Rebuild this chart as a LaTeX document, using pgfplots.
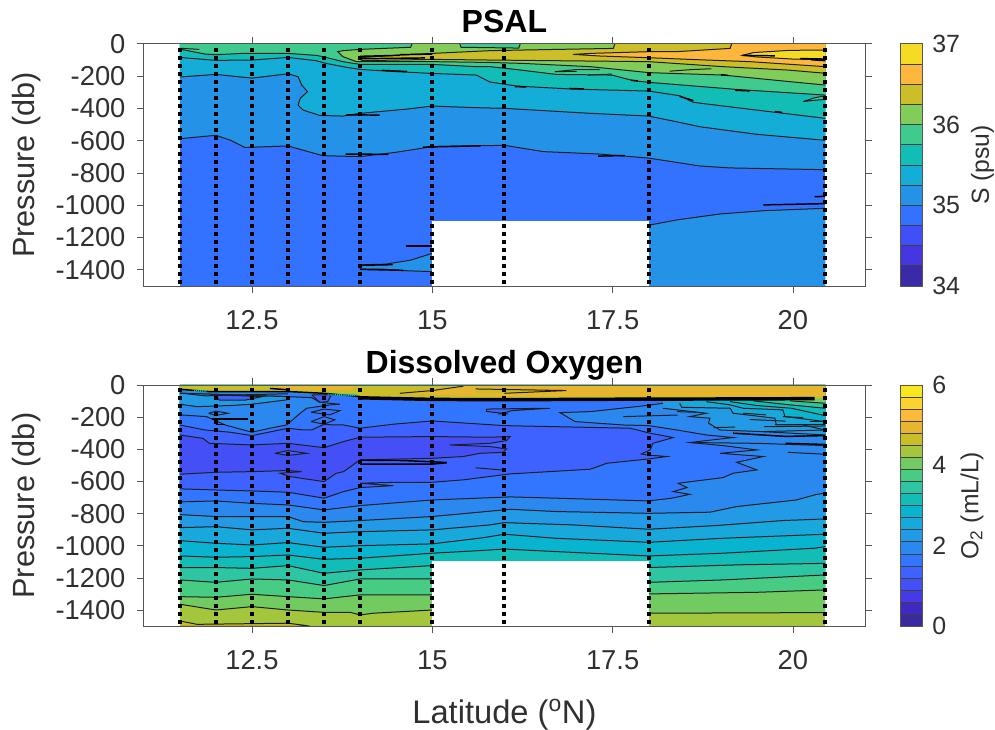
\documentclass[border=0pt]{standalone}
\usepackage{pgfplots}
\pgfplotsset{compat=1.18}
\usepackage{fontspec}
\setmainfont{Liberation Sans}
% PSAL bands
\definecolor{sA}{HTML}{F5DB24}\definecolor{sB}{HTML}{FDB73C}\definecolor{sC}{HTML}{CCBE28}
\definecolor{sD}{HTML}{82CC5A}\definecolor{sE}{HTML}{40CB8E}\definecolor{sF}{HTML}{12BDB5}
\definecolor{sG}{HTML}{14ADD8}\definecolor{sH}{HTML}{2492E6}\definecolor{sI}{HTML}{3272FF}
\definecolor{sJ}{HTML}{4050F8}\definecolor{sK}{HTML}{4636DF}\definecolor{sL}{HTML}{3A2AA8}
% oxygen bands
\definecolor{oa}{HTML}{3A2AA0}\definecolor{ob}{HTML}{4029C0}\definecolor{oc}{HTML}{463AE6}
\definecolor{od}{HTML}{4450F5}\definecolor{oe}{HTML}{3E62FF}\definecolor{of}{HTML}{3276FF}
\definecolor{og}{HTML}{2A88EE}\definecolor{oh}{HTML}{229AE5}\definecolor{oi}{HTML}{18A8DC}
\definecolor{oj}{HTML}{08B4D0}\definecolor{ok}{HTML}{12BDB7}\definecolor{ol}{HTML}{2EC6A2}
\definecolor{om}{HTML}{48CC84}\definecolor{on}{HTML}{72CB60}\definecolor{oo}{HTML}{A4C63C}
\definecolor{op}{HTML}{CABE28}\definecolor{oq}{HTML}{E8B62E}\definecolor{or}{HTML}{FDB93A}
\definecolor{os}{HTML}{FDD22E}\definecolor{ot}{HTML}{F8E71E}
\definecolor{axc}{HTML}{555555}\definecolor{txc}{HTML}{303030}
% helpers
\newcommand\lin[1]{\addplot[black!88,line width=0.75pt,forget plot] coordinates {#1};}
\newcommand\thk[1]{\addplot[black,line width=1.1pt,forget plot] coordinates {#1};}
\newcommand\fillp[2]{\addplot[fill=#1,draw=none,forget plot] coordinates {#2};}
\newcommand\both[2]{\fillp{#1}{#2}\lin{#2}}
\newcommand\lay[2]{\addplot[fill=#1,draw=none,forget plot] coordinates {#2} -- (axis cs:20.45,0) -- (axis cs:11.5,0) -- cycle;\lin{#2}}
\newcommand\layr[2]{\addplot[fill=#1,draw=none,forget plot] coordinates {#2} -- (axis cs:20.45,0) -- cycle;\lin{#2}}
\newcommand\sect[2]{\addplot[black,line width=3pt,dash pattern=on 3pt off 3pt,forget plot] coordinates {(#1,#2)(#1,-1500)};}
\newcommand\cbr[3]{\addplot[fill=#1,draw=black!75,line width=0.5pt,forget plot] coordinates {(0,#2)(1,#2)(1,#3)(0,#3)(0,#2)};}
\pgfplotsset{
  main/.style={scale only axis,width=541pt,xmin=11,xmax=21,ymin=-1500,ymax=0,
    xtick={12.5,15,17.5,20},ytick={0,-200,-400,-600,-800,-1000,-1200,-1400},
    tick align=outside,major tick length=5.2pt,axis line style={axc,line width=0.6pt},
    tick style={axc,line width=0.6pt},
    /pgf/number format/assume math mode=true,
    /pgf/number format/1000 sep={},
    tick label style={font=\fontsize{20.5}{22}\selectfont,text=txc},
    xticklabel style={yshift=-9.5pt},
    yticklabel style={xshift=-5pt},
    ylabel={Pressure (db)},
    ylabel style={at={(axis description cs:-0.162,0.5)},anchor=center,font=\fontsize{23}{25}\selectfont,text=txc},
    title style={at={(axis description cs:0.5,1)},anchor=base,yshift=2.5pt,font=\fontsize{24}{26}\selectfont\bfseries,text=black},
    axis on top=true},
  cbar/.style={scale only axis,width=16.5pt,xmin=0,xmax=1,xtick=\empty,
    yticklabel pos=right,major tick length=0pt,axis line style={axc,line width=0.6pt},
    /pgf/number format/assume math mode=true,
    tick label style={font=\fontsize{18.7}{20}\selectfont,text=txc},
    yticklabel style={anchor=west,inner sep=0pt,xshift=7pt},
    ylabel style={anchor=center,font=\fontsize{18.5}{20}\selectfont,text=txc},
    axis on top=true}
}
\begin{document}
\begin{tikzpicture}
\path[use as bounding box] (0,0) rectangle (746.25pt,547.5pt);
% ---------- PSAL ----------
\begin{axis}[main,at={(107.8pt,333pt)},anchor=south west,height=181.7pt,title={PSAL}]
\fillp{sI}{(11.5,-1500)(20.45,-1500)(20.45,0)(11.5,0)}
% S=35, deep patches
\addplot[fill=sH,draw=none,forget plot] coordinates {(18,-1124)(18.39,-1091)(18.99,-1054)(19.59,-1034)(20.45,-1019)(20.45,-1500)(18,-1500)};
\lin{(18,-1124)(18.39,-1091)(18.99,-1054)(19.59,-1034)(20.45,-1019)}
\both{sH}{(14.0,-1369)(14.35,-1365)(14.7,-1340)(15,-1298)(15,-1411)(14.6,-1405)(14.3,-1395)(14.0,-1395)(14.0,-1369)}
\thk{(14.64,-1252)(15,-1252)}
\thk{(14,-1372)(14.45,-1368)}
\thk{(14,-1397)(14.6,-1403)}
\thk{(19.59,-998)(20.45,-990)}
\thk{(20.3,-947)(20.45,-945)}
% S=35
\lay{sH}{(11.5,-588)(12,-567)(12.2,-597)(12.4,-642)(13,-633)(13.48,-693)(14,-699)(14.5,-672)(15,-637)(16,-629)(16.54,-668)(17.32,-683)(18,-708)(18.71,-757)(19.13,-769)(20.45,-780)}
\thk{(13.8,-683)(14.39,-685)}
\thk{(14.87,-640)(15.67,-632)}
\thk{(17.3,-696)(17.67,-692)}
% S=35.25
\lay{sG}{(11.5,-206)(12,-190)(12.5,-213)(13,-186)(13.14,-204)(13.19,-256)(13.27,-297)(13.17,-338)(13.14,-380)(13.21,-411)(13.44,-444)(13.76,-448)(14,-431)(14.64,-405)(15,-386)(15.61,-396)(16,-400)(17.19,-431)(18,-448)(18.32,-477)(18.71,-514)(19.5,-561)(20.45,-598)}
\thk{(13.81,-440)(14.27,-442)}
% S=35.5
\lay{sF}{(11.5,-85)(12,-103)(12.5,-101)(13,-85)(13.39,-105)(13.53,-122)(13.81,-146)(14,-159)(14.5,-173)(15,-184)(15.61,-194)(15.8,-237)(16.17,-262)(16.95,-281)(18,-293)(18.43,-322)(18.62,-363)(19.5,-411)(20.45,-462)}
\thk{(14.3,-165)(14.65,-172)}
\thk{(18.43,-326)(18.62,-352)}
\thk{(16.15,-265)(16.3,-268)}
\thk{(19.75,-420)(19.85,-425)}
% S=35.75
\lay{sE}{(11.5,-33)(11.85,-64)(12,-68)(12.37,-60)(13,-60)(13.39,-72)(13.53,-85)(13.76,-111)(14,-128)(15,-128)(15.61,-142)(15.8,-142)(16.17,-160)(16.72,-190)(17.49,-194)(17.79,-229)(18,-239)(19.22,-283)(20.45,-318)}
\lin{(11.5,-28)(11.77,-35)}
\thk{(16.9,-277)(17.1,-280)}
\thk{(19.2,-288)(19.4,-292)}
\both{sE}{(20.45,-322)(20.3,-335)(20.14,-358)(20.3,-350)(20.45,-345)(20.45,-322)}
% S=36
\layr{sD}{(14.72,0)(14.7,-22)(14,-35)(13.76,-43)(13.69,-49)(13.76,-80)(13.95,-111)(15,-111)(15.8,-116)(16.26,-122)(17.19,-142)(18,-179)(19.03,-194)(19.96,-235)(20.45,-256)}
\lin{(16.7,-173)(17.0,-160)(17.32,-160)}
\lin{(16.7,-173)(17.0,-171)}
\lin{(17.16,-194)(17.49,-188)}
\lin{(18.29,-170)(18.6,-160)(18.87,-155)}
\thk{(17.75,-226)(17.85,-230)}
\thk{(19,-192)(19.1,-196)}
% patch
\both{sE}{(15.38,0)(15.4,-22)(16.2,-27)(16.22,0)}
% S=36.25
\layr{sC}{(17.53,0)(17.51,-29)(16.26,-39)(15.8,-43)(15,-60)(14.55,-70)(14.04,-85)(14,-97)(14.04,-105)(15,-97)(15.8,-101)(18,-111)(19.03,-142)(19.93,-163)(20.45,-183)}
\thk{(14,-78)(14.55,-72)}
\thk{(14.55,-68)(15,-64)}
\thk{(14,-93)(14.9,-88)}
% S=36.5
\layr{sB}{(19.15,0)(19.13,-29)(18.39,-49)(18.02,-49)(17.19,-60)(16.95,-66)(17.32,-76)(18.02,-87)(18.57,-97)(19.4,-111)(20.45,-142)}
% S=36.75
\both{sA}{(20.45,-39)(19.95,-41)(19.45,-55)(19.3,-72)(19.5,-82)(20,-95)(20.45,-99)}
\thk{(19.3,-72)(19.75,-75)}
\thk{(20.1,-92)(20.45,-95)}
\thk{(20.25,-99)(20.45,-105)}
% no data
\fillp{white}{(15,-1100)(18,-1100)(18,-1500)(15,-1500)}
% stations
\sect{11.5}{-27}\sect{12}{-27}\sect{12.5}{-27}\sect{13}{-27}\sect{13.5}{-27}\sect{14}{-27}\sect{15}{-27}\sect{16}{-27}\sect{18}{-27}\sect{20.45}{-27}
\end{axis}
% ---------- PSAL colourbar ----------
\begin{axis}[cbar,at={(675.5pt,333pt)},anchor=south west,height=181.7pt,ymin=34,ymax=37,ytick={34,35,36,37},
  ylabel={S (psu)},ylabel style={at={(axis description cs:3.72,0.5)}}]
\cbr{sL}{34}{34.25}\cbr{sK}{34.25}{34.5}\cbr{sJ}{34.5}{34.75}\cbr{sI}{34.75}{35}
\cbr{sH}{35}{35.25}\cbr{sG}{35.25}{35.5}\cbr{sF}{35.5}{35.75}\cbr{sE}{35.75}{36}
\cbr{sD}{36}{36.25}\cbr{sC}{36.25}{36.5}\cbr{sB}{36.5}{36.75}\cbr{sA}{36.75}{37}
\end{axis}
% ---------- Oxygen ----------
\begin{axis}[main,at={(107.8pt,77.8pt)},anchor=south west,height=181pt,title={Dissolved Oxygen},
  xlabel={Latitude (\textsuperscript{o}N)},
  xlabel style={at={(axis description cs:0.5,-0.365)},anchor=center,font=\fontsize{24.5}{26}\selectfont,text=txc}]
\fillp{oo}{(11.5,-1500)(20.45,-1500)(20.45,0)(11.5,0)}
\both{op}{(11.5,-1467)(11.74,-1488)(13,-1481)(13.26,-1496)(13.3,-1500)(11.5,-1500)}
\lay{on}{(11.5,-1363)(12,-1399)(12.5,-1378)(13,-1399)(13.48,-1413)(13.86,-1413)(14,-1430)(14.18,-1419)(15,-1399)(18,-1419)(20.45,-1415)}
\lay{om}{(11.5,-1316)(12,-1320)(12.5,-1301)(13,-1316)(13.5,-1330)(14,-1305)(15,-1305)(18,-1299)(19.5,-1289)(20.45,-1274)}
\lay{ol}{(11.5,-1212)(12,-1227)(12.5,-1206)(13,-1212)(13.5,-1247)(14,-1206)(15,-1206)(18,-1227)(19.03,-1212)(20.45,-1181)}
\lay{ok}{(11.5,-1135)(12,-1135)(12.5,-1140)(13,-1123)(13.5,-1171)(14,-1150)(15,-1123)(18,-1135)(19.27,-1118)(20.45,-1109)}
\lay{oj}{(11.5,-1063)(12,-1071)(12.5,-1067)(13,-1057)(13.5,-1084)(14,-1077)(15,-1046)(15.8,-1026)(16,-1020)(16.72,-1036)(18,-1063)(19.03,-1046)(20.3,-1015)(20.45,-1005)}
\lay{oi}{(11.5,-968)(12,-984)(12.5,-995)(13,-980)(13.5,-1009)(14,-999)(15,-988)(15.7,-950)(16,-928)(16.7,-953)(18,-978)(19.03,-953)(20.45,-928)}
\lay{oh}{(11.5,-887)(12,-881)(12.5,-901)(13,-891)(13.5,-922)(14,-912)(15,-901)(15.8,-870)(16,-856)(16.95,-870)(18,-897)(18.94,-874)(19.86,-843)(20.45,-833)}
\lay{og}{(11.5,-806)(12,-818)(12.5,-818)(13,-818)(13.21,-850)(13.5,-854)(14,-843)(15,-818)(16.08,-773)(16.72,-787)(18,-798)(18.85,-791)(19.22,-756)(20.05,-715)(20.33,-680)(20.45,-673)}
% above 1.8 (band 1.5-1.8), bounded to the right by the jagged contour
\fillp{of}{(11.5,-727)(12,-721)(12.5,-736)(13,-746)(13.5,-777)(14,-750)(15,-715)(16.08,-696)(16.72,-704)(18,-721)(18.32,-704)(18.57,-680)(18.34,-663)(18.53,-638)(18.41,-611)(19.03,-576)(19.17,-549)(19.5,-528)(19.38,-508)(19.22,-481)(19.59,-445)(18.99,-425)(19.5,-404)(19.03,-377)(18.57,-358)(19.17,-327)(18.8,-311)(18.39,-280)(18,-253)(17.65,-249)(16.98,-228)(16.77,-172)(17.19,-166)(17.97,-128)(18.2,-114)(18.2,-60)(11.5,-60)}
\lin{(11.5,-727)(12,-721)(12.5,-736)(13,-746)(13.5,-777)(14,-750)(15,-715)(16.08,-696)(16.72,-704)(18,-721)(18.32,-704)(18.57,-680)(18.34,-663)(18.53,-638)(18.41,-611)(19.03,-576)(19.17,-549)(19.5,-528)(19.38,-508)(19.22,-481)(19.59,-445)(18.99,-425)(19.5,-404)(19.03,-377)(18.57,-358)(19.17,-327)(18.8,-311)(18.39,-280)(18,-253)(17.65,-249)(16.98,-228)(16.77,-172)(17.19,-166)(17.97,-128)(18.2,-114)}
% band 1.2-1.5
\both{oe}{(11.5,-646)(12,-653)(12.5,-659)(13,-667)(13.5,-704)(13.77,-663)(14,-638)(14.46,-626)(14,-611)(14.5,-605)(15,-605)(15.43,-590)(16.08,-553)(17.19,-524)(17.42,-487)(18,-460)(18.25,-445)(17.97,-435)(17.9,-429)(18.02,-404)(18.06,-363)(18.34,-327)(18.02,-300)(17.74,-269)(16,-253)(15,-224)(14.46,-244)(14,-269)(13.77,-249)(13.63,-249)(13.5,-244)(13.33,-280)(13.21,-280)(13,-269)(12.5,-315)(12.2,-294)(11.85,-280)(11.5,-249)}
% band 0.9-1.2
\both{od}{(11.5,-311)(11.82,-332)(11.91,-363)(12.5,-373)(13,-363)(13.5,-390)(13.77,-352)(14,-325)(15,-321)(15.8,-325)(16.08,-321)(16.03,-346)(15.8,-363)(15.24,-373)(15.8,-383)(16.03,-398)(15.98,-419)(15.66,-425)(15.43,-445)(15,-456)(14,-466)(13.77,-539)(13.67,-549)(13.5,-601)(13.03,-570)(12.89,-549)(13.19,-539)(13,-532)(12.5,-539)(12,-543)(11.5,-555)}
\both{oe}{(12.82,-425)(13,-408)(13.26,-425)(13,-438)(12.82,-425)}
\thk{(14,-468)(14.6,-470)(15.2,-482)}
\thk{(14,-492)(15,-492)(15.2,-484)}
\lin{(15.6,-515)(16,-530)}
% band 1.8-2.1 at the left
\both{og}{(11.5,-186)(11.87,-197)(12.13,-249)(12.5,-294)(12.75,-269)(12.98,-249)(13.17,-176)(13.26,-145)(13.58,-124)(13.72,-120)(13.44,-108)(13.33,-79)(13,-73)(11.5,-52)}
% band 2.1-2.4 at the left
\both{oh}{(11.5,-120)(11.74,-135)(12.2,-128)(12.5,-120)(12.98,-93)(13,-73)(11.5,-52)}
% small closed features near the thermocline
\both{og}{(11.9,-176)(12,-163)(12.17,-176)(12,-190)(11.9,-176)}
\thk{(11.95,-213)(12.45,-213)}
\thk{(12.0,-245)(12.12,-245)}
\both{of}{(13.32,-170)(13.5,-150)(13.72,-160)(13.58,-186)(13.32,-170)}
\both{of}{(13.32,-228)(13.5,-197)(13.65,-217)(13.5,-244)(13.32,-228)}
\both{oe}{(11.98,-62)(12.65,-72)(12.4,-95)(12.05,-95)(11.98,-62)}
\both{oe}{(13.33,-62)(13.6,-62)(13.55,-104)(13.44,-108)(13.33,-62)}
\both{oe}{(15.75,-150)(16.63,-145)(16.1,-160)(15.95,-180)(16.05,-180)(15.75,-165)(15.75,-150)}
% fan at the upper right
\fillp{oh}{(18.2,-145)(18.8,-176)(18.57,-197)(18.85,-207)(18.83,-238)(18.99,-280)(19.56,-290)(20.45,-311)(20.45,-62)(18.2,-82)}
\lin{(18.2,-145)(18.8,-176)(18.57,-197)(18.85,-207)(18.83,-238)(18.99,-280)(19.56,-290)(20.45,-311)}
\fillp{oi}{(18.43,-114)(18.46,-139)(19.13,-145)(19.17,-176)(19.75,-207)(19.77,-249)(20.14,-249)(20.45,-280)(20.45,-62)(18.43,-82)}
\lin{(18.43,-114)(18.46,-139)(19.13,-145)(19.17,-176)(19.75,-207)(19.77,-249)(20.14,-249)(20.45,-280)}
\fillp{oj}{(18.8,-104)(19.13,-124)(19.31,-145)(19.86,-155)(19.89,-197)(20.45,-228)(20.45,-62)(18.8,-75)}
\lin{(18.8,-104)(19.13,-124)(19.31,-145)(19.86,-155)(19.89,-197)(20.45,-228)}
\fillp{ok}{(19.13,-104)(19.5,-128)(19.98,-145)(20.45,-191)(20.45,-62)(19.13,-75)}
\lin{(19.13,-104)(19.5,-128)(19.98,-145)(20.45,-191)}
\fillp{ol}{(19.45,-99)(19.96,-124)(20.45,-145)(20.45,-62)(19.45,-75)}
\lin{(19.45,-99)(19.96,-124)(20.45,-145)}
\fillp{on}{(19.96,-99)(20.45,-114)(20.45,-62)(19.96,-75)}
\lin{(19.96,-99)(20.45,-114)}
% fingers
\lin{(18.57,-358)(19.5,-363)(20.45,-377)}
\thk{(19.17,-300)(19.9,-320)(20.45,-315)}
\thk{(19.9,-363)(20.45,-370)}
\lin{(19.93,-419)(20.45,-431)}
\lin{(17.65,-197)(18.4,-187)}
\lin{(18.39,-166)(18.66,-170)}
\lin{(19.6,-260)(20.45,-255)}
\lin{(19.4,-215)(19.9,-225)}
\lin{(19.75,-249)(20.45,-249)}
\lin{(19.59,-290)(20.45,-280)}
\lin{(20.23,-228)(20.45,-228)}
\lin{(19.86,-197)(20.14,-203)}
\lin{(19.31,-176)(19.63,-186)}
\lin{(18.9,-265)(19.2,-262)}
% top slab
\fillp{op}{(11.5,0)(20.45,0)(20.45,-83)(18,-85)(16.08,-90)(15.43,-88)(14.55,-85)(13.95,-70)(13.5,-52)(13,-41)(11.9,-41)(11.5,-25)}
\fillp{oq}{(12.75,-17)(12.97,-31)(13.85,-31)(13.95,0)(12.97,0)}
\fillp{oq}{(14.55,-52)(15.43,-6)(15.43,0)(20.45,0)(20.45,-72)(18,-70)(16.08,-72)}
\fillp{op}{(15.6,-25)(16.86,-35)(16,-52)(15.6,-50)}
\lin{(14.55,-52)(15,-35)(15.43,-8)}
\lin{(15.6,-25)(16.86,-35)(16,-52)}
\addplot[black,line width=2.6pt,forget plot] coordinates {(14,-80)(15,-90)(16,-92)(18,-88)(19.5,-87)(20.3,-85)};
\thk{(11.5,-27)(11.9,-41)(13,-41)(13.5,-52)(14,-72)}
\thk{(12.75,-22)(13,-30)(13,-44)}
\lin{(11.5,-50)(11.85,-68)(12.5,-60)(13,-55)}
\lin{(13.5,-60)(13.95,-65)}
\addplot[ok,line width=1.6pt,dash pattern=on 0.8pt off 0.6pt,forget plot] coordinates {(13.55,-60)(13.95,-62)};
\addplot[ok,line width=1.4pt,dash pattern=on 0.8pt off 0.6pt,forget plot] coordinates {(11.7,-36)(11.88,-38)};
% no data
\fillp{white}{(15,-1094)(18,-1094)(18,-1500)(15,-1500)}
% stations
\sect{11.5}{-18}\sect{12}{-18}\sect{12.5}{-18}\sect{13}{-18}\sect{13.5}{-18}\sect{14}{-18}\sect{15}{-18}\sect{16}{-18}\sect{18}{-18}\sect{20.45}{-18}
\end{axis}
% ---------- Oxygen colourbar ----------
\begin{axis}[cbar,at={(675.5pt,77.8pt)},anchor=south west,height=181pt,ymin=0,ymax=6,ytick={0,2,4,6},
  ylabel={O\textsubscript{2} (mL/L)},ylabel style={at={(axis description cs:3.24,0.5)}}]
\cbr{oa}{0}{0.3}\cbr{ob}{0.3}{0.6}\cbr{oc}{0.6}{0.9}\cbr{od}{0.9}{1.2}\cbr{oe}{1.2}{1.5}
\cbr{of}{1.5}{1.8}\cbr{og}{1.8}{2.1}\cbr{oh}{2.1}{2.4}\cbr{oi}{2.4}{2.7}\cbr{oj}{2.7}{3}
\cbr{ok}{3}{3.3}\cbr{ol}{3.3}{3.6}\cbr{om}{3.6}{3.9}\cbr{on}{3.9}{4.2}\cbr{oo}{4.2}{4.5}
\cbr{op}{4.5}{4.8}\cbr{oq}{4.8}{5.1}\cbr{or}{5.1}{5.4}\cbr{os}{5.4}{5.7}\cbr{ot}{5.7}{6}
\end{axis}
\end{tikzpicture}
\end{document}
